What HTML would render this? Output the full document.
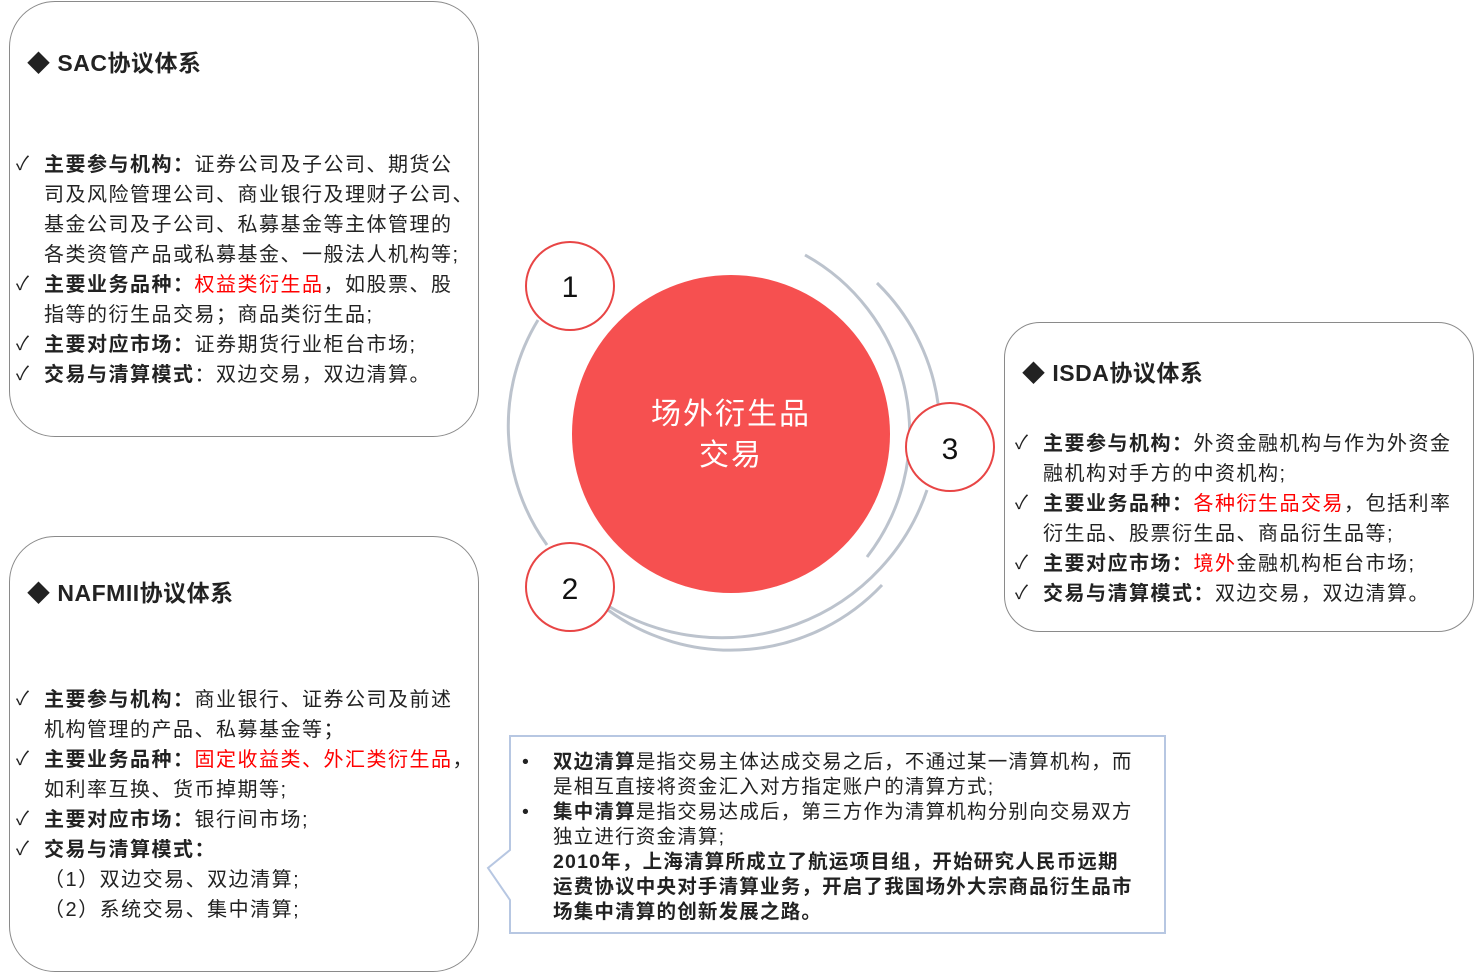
<!DOCTYPE html>
<html><head><meta charset="utf-8">
<style>
body{margin:0;width:1474px;height:972px;background:#fff;position:relative;overflow:hidden;font-family:"Liberation Sans","Noto Sans CJK SC",sans-serif;color:#222}
.box{position:absolute;border:1.3px solid #8a8a8a;border-radius:46px;background:#fff}
.t{position:absolute;white-space:nowrap;font-size:20px;line-height:30px;letter-spacing:1.5px;margin-top:2px}
.h{position:absolute;white-space:nowrap;font-size:23px;font-weight:bold;line-height:30px;margin-top:2px;letter-spacing:0.5px}
b{font-weight:bold}
.r{color:#f00}
.ck{position:absolute;font-size:19px;line-height:30px;margin-top:2px}
.c{position:absolute;white-space:nowrap;font-size:19.5px;line-height:25px;letter-spacing:1.2px;margin-top:2px}
</style></head><body>
<div class="box" style="left:9px;top:1px;width:468px;height:434px"></div>
<div class="box" style="left:9px;top:536px;width:468px;height:434px"></div>
<div class="box" style="left:1004px;top:322px;width:468px;height:308px;border-radius:36px"></div>

<svg style="position:absolute;left:0;top:0" width="1474" height="972">
<g fill="none" stroke="#bcc3cd" stroke-width="3">
<path d="M805,255 A203,203 0 0 1 867,557"/>
<path d="M538,320 A203,203 0 0 0 547,545"/>
<path d="M927,490 A217,217 0 0 1 610,607"/>
<path d="M877,283 A208,208 0 0 1 940,430"/>
<path d="M882,585 A208,208 0 0 1 608,610"/>
</g>
<circle cx="731" cy="434" r="159" fill="#f65050"/>
<g fill="#fff" stroke="#e84545" stroke-width="2">
<circle cx="570" cy="286" r="44"/><circle cx="570" cy="587" r="44"/><circle cx="950" cy="447" r="44"/>
</g>
<g font-family="Liberation Sans,sans-serif" font-size="30" text-anchor="middle" fill="#111">
<text x="570" y="297">1</text><text x="570" y="599">2</text><text x="950" y="459">3</text>
</g>
<g font-family="Liberation Sans,Noto Sans CJK SC,sans-serif" font-size="30" text-anchor="middle" fill="#fff">
<text x="731" y="424" letter-spacing="2">场外衍生品</text><text x="731" y="465" letter-spacing="2">交易</text>
</g>
<path d="M510,736 L1165,736 L1165,933 L510,933 L510,900 L488,868 L510,850 Z" fill="#fff" stroke="#b7c7e2" stroke-width="2"/>
</svg>

<div class="h" style="left:27px;top:46px">◆ SAC协议体系</div>
<div class="ck" style="left:16px;top:148px">✓</div>
<div class="t" style="left:44px;top:148px"><b>主要参与机构：</b>证券公司及子公司、期货公</div>
<div class="t" style="left:44px;top:178px">司及风险管理公司、商业银行及理财子公司、</div>
<div class="t" style="left:44px;top:208px">基金公司及子公司、私募基金等主体管理的</div>
<div class="t" style="left:44px;top:238px">各类资管产品或私募基金、一般法人机构等;</div>
<div class="ck" style="left:16px;top:268px">✓</div>
<div class="t" style="left:44px;top:268px"><b>主要业务品种：</b><span class="r">权益类衍生品</span>，如股票、股</div>
<div class="t" style="left:44px;top:298px">指等的衍生品交易；商品类衍生品;</div>
<div class="ck" style="left:16px;top:328px">✓</div>
<div class="t" style="left:44px;top:328px"><b>主要对应市场：</b>证券期货行业柜台市场;</div>
<div class="ck" style="left:16px;top:358px">✓</div>
<div class="t" style="left:44px;top:358px"><b>交易与清算模式</b>：双边交易，双边清算。</div>

<div class="h" style="left:27px;top:576px">◆ NAFMII协议体系</div>
<div class="ck" style="left:16px;top:683px">✓</div>
<div class="t" style="left:44px;top:683px"><b>主要参与机构：</b>商业银行、证券公司及前述</div>
<div class="t" style="left:44px;top:713px">机构管理的产品、私募基金等；</div>
<div class="ck" style="left:16px;top:743px">✓</div>
<div class="t" style="left:44px;top:743px"><b>主要业务品种：</b><span class="r">固定收益类、外汇类衍生品</span>，</div>
<div class="t" style="left:44px;top:773px">如利率互换、货币掉期等;</div>
<div class="ck" style="left:16px;top:803px">✓</div>
<div class="t" style="left:44px;top:803px"><b>主要对应市场：</b>银行间市场;</div>
<div class="ck" style="left:16px;top:833px">✓</div>
<div class="t" style="left:44px;top:833px"><b>交易与清算模式：</b></div>
<div class="t" style="left:44px;top:863px">（1）双边交易、双边清算;</div>
<div class="t" style="left:44px;top:893px">（2）系统交易、集中清算;</div>

<div class="h" style="left:1022px;top:356px">◆ ISDA协议体系</div>
<div class="ck" style="left:1015px;top:427px">✓</div>
<div class="t" style="left:1043px;top:427px"><b>主要参与机构：</b>外资金融机构与作为外资金</div>
<div class="t" style="left:1043px;top:457px">融机构对手方的中资机构;</div>
<div class="ck" style="left:1015px;top:487px">✓</div>
<div class="t" style="left:1043px;top:487px"><b>主要业务品种：</b><span class="r">各种衍生品交易</span>，包括利率</div>
<div class="t" style="left:1043px;top:517px">衍生品、股票衍生品、商品衍生品等;</div>
<div class="ck" style="left:1015px;top:547px">✓</div>
<div class="t" style="left:1043px;top:547px"><b>主要对应市场：</b><span class="r">境外</span>金融机构柜台市场;</div>
<div class="ck" style="left:1015px;top:577px">✓</div>
<div class="t" style="left:1043px;top:577px"><b>交易与清算模式：</b>双边交易，双边清算。</div>

<div class="c" style="left:522px;top:748px">•</div>
<div class="c" style="left:553px;top:748px"><b>双边清算</b>是指交易主体达成交易之后，不通过某一清算机构，而</div>
<div class="c" style="left:553px;top:773px">是相互直接将资金汇入对方指定账户的清算方式;</div>
<div class="c" style="left:522px;top:798px">•</div>
<div class="c" style="left:553px;top:798px"><b>集中清算</b>是指交易达成后，第三方作为清算机构分别向交易双方</div>
<div class="c" style="left:553px;top:823px">独立进行资金清算;</div>
<div class="c" style="left:553px;top:848px;font-weight:bold">2010年，上海清算所成立了航运项目组，开始研究人民币远期</div>
<div class="c" style="left:553px;top:873px;font-weight:bold">运费协议中央对手清算业务，开启了我国场外大宗商品衍生品市</div>
<div class="c" style="left:553px;top:898px;font-weight:bold">场集中清算的创新发展之路。</div>
</body></html>
